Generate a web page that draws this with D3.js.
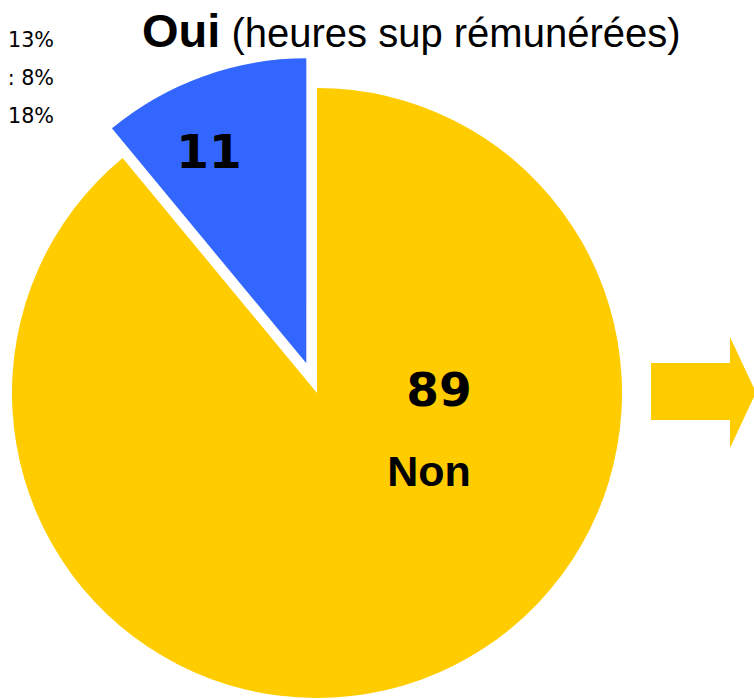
<!DOCTYPE html>
<html><head>
<meta charset="UTF-8">
<title>Oui (heures sup rémunérées)</title>
<script src="https://cdnjs.cloudflare.com/ajax/libs/d3/7.8.5/d3.min.js"></script>
<style>
  body { margin: 0; background: #fff; }
  svg { display: block; }
</style>
</head>
<body>
<div id="chart"></div>
<script>
// data
var categories = ["Non", "Oui"];
var values = [89, 11];
var colors = ["#FFCC00", "#3366FF"];
var sideNotes = ["13%", ": 8%", "18%"];

var width = 754, height = 699;
var cx = 317, cy = 393, radius = 305;
var explode = 31.5;

var svg = d3.select("#chart").append("svg")
    .attr("width", width)
    .attr("height", height);

// title
var title = svg.append("text")
    .attr("x", 142)
    .attr("y", 47)
    .attr("font-family", "'Liberation Sans', Arial, sans-serif")
    .attr("fill", "#000");
title.append("tspan").attr("font-size", 47).attr("font-weight", "bold").text("Oui");
title.append("tspan").attr("font-size", 40).text(" (heures sup rémunérées)");

// truncated notes on the left
svg.selectAll("text.note")
    .data(sideNotes)
    .enter().append("text")
    .attr("class", "note")
    .attr("x", 54)
    .attr("y", (d, i) => 47 + i * 38)
    .attr("text-anchor", "end")
    .attr("font-family", "'DejaVu Sans', Verdana, sans-serif")
    .attr("font-size", 20.7)
    .attr("fill", "#000")
    .text(d => d);

// pie
var pie = d3.pie().sort(null).value(d => d);
var arc = d3.arc().innerRadius(0).outerRadius(radius);
var slices = pie(values);

var g = svg.append("g").attr("transform", `translate(${cx},${cy})`);

g.selectAll("path")
    .data(slices)
    .enter().append("path")
    .attr("d", arc)
    .attr("fill", (d, i) => colors[i])
    .attr("transform", (d, i) => {
        if (categories[i] !== "Oui") return null;
        var mid = (d.startAngle + d.endAngle) / 2;
        return `translate(${Math.sin(mid) * explode},${-Math.cos(mid) * explode})`;
    });

// value labels (hand placed like the original)
var labelPos = [[122, 13], [-108, -225]];
g.selectAll("text.val")
    .data(slices)
    .enter().append("text")
    .attr("class", "val")
    .attr("x", (d, i) => labelPos[i][0])
    .attr("y", (d, i) => labelPos[i][1])
    .attr("text-anchor", "middle")
    .attr("font-family", "'DejaVu Sans', Verdana, sans-serif")
    .attr("font-weight", "bold")
    .attr("font-size", 47)
    .attr("fill", "#000")
    .text(d => d.value);

g.append("text")
    .attr("x", 112)
    .attr("y", 93)
    .attr("text-anchor", "middle")
    .attr("font-family", "'Liberation Sans', Arial, sans-serif")
    .attr("font-weight", "bold")
    .attr("font-size", 43)
    .attr("fill", "#000")
    .text(categories[0]);

// arrow on the right
var arrow = [[651, 363], [730, 363], [730, 337], [756, 392.5], [730, 448], [730, 420], [651, 420]];
svg.append("path")
    .attr("d", d3.line()(arrow) + "Z")
    .attr("fill", "#FFCC00");
</script>
</body>
</html>
